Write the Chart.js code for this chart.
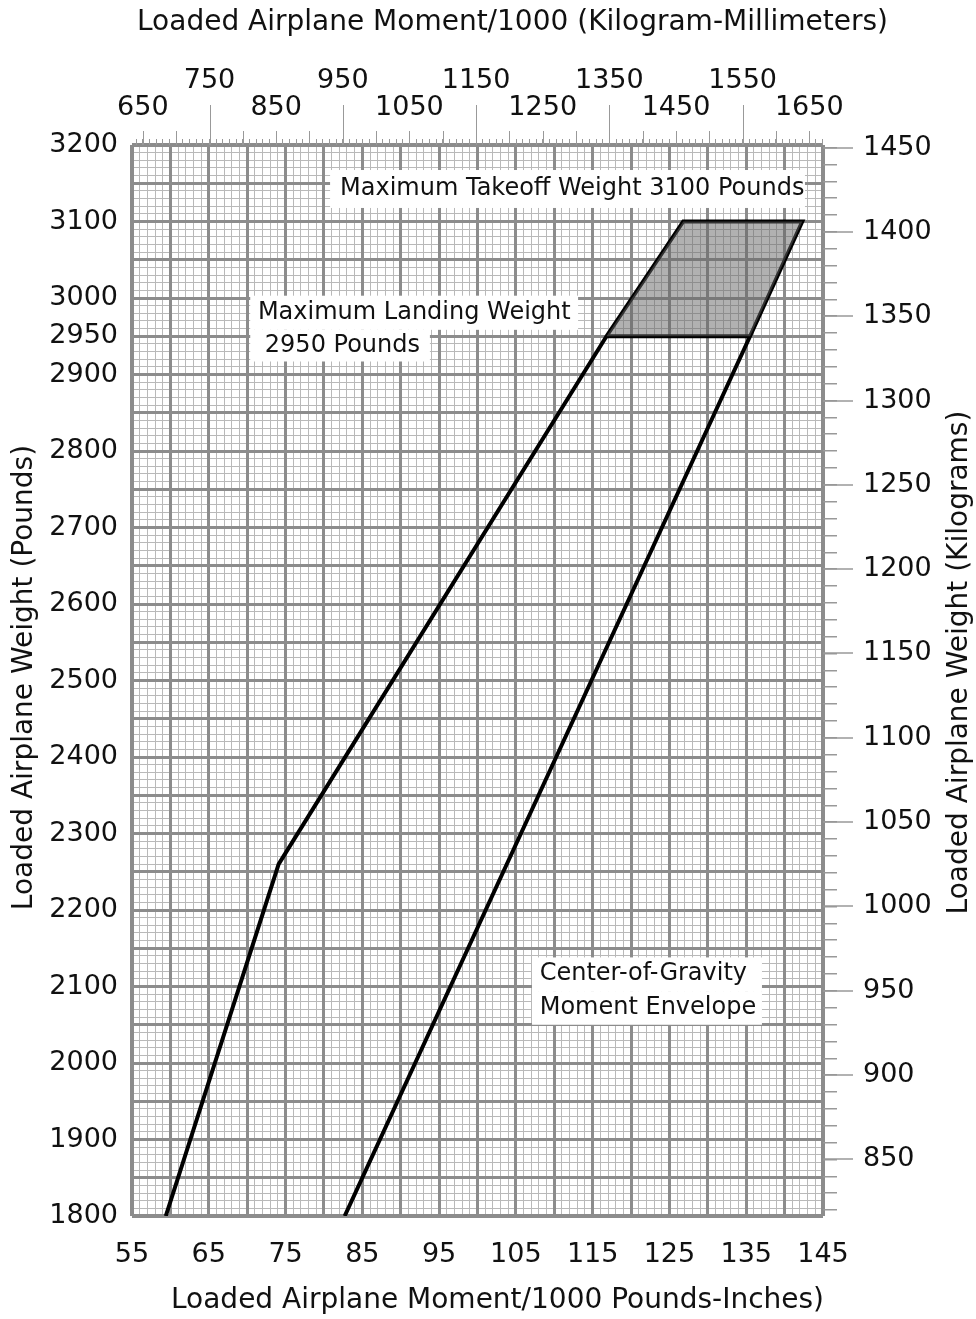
<!DOCTYPE html>
<html>
<head>
<meta charset="utf-8">
<title>Center-of-Gravity Moment Envelope</title>
<script src="https://cdn.jsdelivr.net/npm/chart.js@4.4.0/dist/chart.umd.min.js"></script>
<style>
  html, body { margin: 0; padding: 0; background: #fff; }
  #wrap { width: 976px; height: 1319px; }
</style>
</head>
<body>
<div id="wrap"><canvas id="cg"></canvas></div>
<script>
// Envelope corners: moment/1000 lb-in vs weight lb
const envMoment = [59.4, 74.1, 116.8, 126.8, 142.3, 135.5, 82.7];
const envWeight = [1800, 2260, 2950, 3100, 3100, 2950, 1800];
// Max landing weight line
const landMoment = [116.8, 135.5];
const landWeight = [2950, 2950];
// Shaded band between landing and takeoff weight
const shadeMoment = [116.8, 126.8, 142.3, 135.5];
const shadeWeight = [2950, 3100, 3100, 2950];

// Axis ranges
const momentRange = [55, 145];
const weightRange = [1800, 3200];

// Tick labels
const momentLabels = [55, 65, 75, 85, 95, 105, 115, 125, 135, 145];
const weightLabels = [1800, 1900, 2000, 2100, 2200, 2300, 2400, 2500, 2600, 2700, 2800, 2900, 2950, 3000, 3100, 3200];
const kgmmLabelsHigh = [750, 950, 1150, 1350, 1550];
const kgmmLabelsLow = [650, 850, 1050, 1250, 1450, 1650];
const kgLabels = [850, 900, 950, 1000, 1050, 1100, 1150, 1200, 1250, 1300, 1350, 1400, 1450];

// Unit conversions for the secondary axes
const LBIN_TO_KGMM = 11.521246;
const LB_TO_KG = 0.45359237;

// Text notes (data units)
const notes = [
  { text: 'Maximum Takeoff Weight 3100 Pounds', x: 82.1, y: 3142.5, box: [80.8, 142.65, 3117.7, 3167.3] },
  { text: 'Maximum Landing Weight', x: 71.4, y: 2980.6, box: [70.4, 113.1, 2958.4, 3003] },
  { text: '2950 Pounds', x: 72.3, y: 2937, box: [70.4, 93.8, 2917, 2958.4] },
  { text: 'Center-of-Gravity', x: 108.1, y: 2116, box: [107.1, 137.05, 2094, 2138] },
  { text: 'Moment Envelope', x: 108.1, y: 2071.6, box: [107.1, 137.05, 2050, 2094] }
];

const titleTop = 'Loaded Airplane Moment/1000 (Kilogram-Millimeters)';
const titleBottom = 'Loaded Airplane Moment/1000 Pounds-Inches)';
const titleLeft = 'Loaded Airplane Weight (Pounds)';
const titleRight = 'Loaded Airplane Weight (Kilograms)';

const FONT = '"DejaVu Sans", sans-serif';
const TEXT = '#111';
const MAJOR = '#8c8c8c';
const MINOR = '#b9b9b9';

function stepTicks(min, max, step) {
  const out = [];
  for (let v = Math.ceil(min / step - 1e-9) * step; v <= max + 1e-9; v += step) {
    out.push({ value: +v.toFixed(6) });
  }
  return out;
}

function fixSize(w, h) {
  return function(scale) {
    if (w !== null) scale.width = w;
    if (h !== null) scale.height = h;
    scale.paddingLeft = scale.paddingRight = scale.paddingTop = scale.paddingBottom = 0;
  };
}

function edgeWidth(ctx) {
  const s = ctx.scale;
  if (ctx.tick && (ctx.tick.value === s.min || ctx.tick.value === s.max)) return 4;
  return 3;
}

function pts(xs, ys) {
  return xs.map((x, i) => ({ x: x, y: ys[i] }));
}

const overlay = {
  id: 'overlay',
  beforeDatasetsDraw(chart) {
    const ctx = chart.ctx;
    const sx = chart.scales.x, sy = chart.scales.y;
    ctx.save();
    notes.forEach(n => {
      const x0 = sx.getPixelForValue(n.box[0]);
      const x1 = sx.getPixelForValue(n.box[1]);
      const y0 = sy.getPixelForValue(n.box[3]);
      const y1 = sy.getPixelForValue(n.box[2]);
      ctx.fillStyle = '#fff';
      ctx.fillRect(x0, y0, x1 - x0, y1 - y0);
    });
    ctx.font = '24px ' + FONT;
    ctx.fillStyle = TEXT;
    ctx.textAlign = 'left';
    ctx.textBaseline = 'middle';
    notes.forEach(n => {
      ctx.fillText(n.text, sx.getPixelForValue(n.x), sy.getPixelForValue(n.y));
    });
    ctx.restore();
  },
  afterDraw(chart) {
    const ctx = chart.ctx;
    const area = chart.chartArea;
    const top = chart.scales.xTop;
    const right = chart.scales.yKg;
    ctx.save();
    ctx.strokeStyle = '#999';
    ctx.lineWidth = 1;
    // longer marks on the kg-mm axis
    top.ticks.forEach(t => {
      let len = 0;
      if (kgmmLabelsHigh.includes(t.value)) len = 40;
      else if (t.value % 50 === 0) len = 14;
      if (!len) return;
      const px = Math.round(top.getPixelForValue(t.value)) + 0.5;
      ctx.beginPath();
      ctx.moveTo(px, area.top);
      ctx.lineTo(px, area.top - len);
      ctx.stroke();
    });
    // longer marks on the kg axis
    ctx.lineWidth = 1.5;
    kgLabels.forEach(v => {
      const py = Math.round(right.getPixelForValue(v));
      ctx.beginPath();
      ctx.moveTo(area.right, py);
      ctx.lineTo(area.right + 30, py);
      ctx.stroke();
    });

    // axis titles
    ctx.font = '28px ' + FONT;
    ctx.fillStyle = TEXT;
    ctx.textAlign = 'center';
    ctx.textBaseline = 'middle';
    const cx = (area.left + area.right) / 2;
    const cy = (area.top + area.bottom) / 2;
    ctx.fillText(titleTop, cx + 35, 23);
    ctx.fillText(titleBottom, cx + 20, chart.height - 18);
    ctx.save();
    ctx.translate(25, cy - 3);
    ctx.rotate(-Math.PI / 2);
    ctx.fillText(titleLeft, 0, 0);
    ctx.restore();
    ctx.save();
    ctx.translate(chart.width - 16, cy - 18);
    ctx.rotate(-Math.PI / 2);
    ctx.fillText(titleRight, 0, 0);
    ctx.restore();
    ctx.restore();
  }
};

const labelFont = { family: FONT, size: 27 };

new Chart(document.getElementById('cg'), {
  type: 'line',
  data: {
    datasets: [
      {
        data: pts(shadeMoment, shadeWeight),
        fill: 'shape',
        backgroundColor: 'rgba(100,100,100,0.5)',
        borderWidth: 0,
        pointRadius: 0
      },
      {
        data: pts(envMoment, envWeight),
        fill: false,
        borderColor: '#000',
        borderWidth: 4,
        pointRadius: 0
      },
      {
        data: pts(landMoment, landWeight),
        fill: false,
        borderColor: '#000',
        borderWidth: 4,
        pointRadius: 0
      }
    ]
  },
  options: {
    responsive: true,
    maintainAspectRatio: false,
    animation: false,
    devicePixelRatio: 1,
    layout: { padding: 0 },
    plugins: {
      legend: { display: false },
      tooltip: { enabled: false }
    },
    scales: {
      xMinor: {
        type: 'linear', position: 'bottom', min: momentRange[0], max: momentRange[1],
        afterBuildTicks: s => { s.ticks = stepTicks(momentRange[0], momentRange[1], 1); },
        ticks: { display: false },
        grid: { color: MINOR, lineWidth: 1, drawTicks: false, z: -2 },
        border: { display: false },
        afterFit: fixSize(null, 0)
      },
      yMinor: {
        type: 'linear', position: 'left', min: weightRange[0], max: weightRange[1],
        afterBuildTicks: s => { s.ticks = stepTicks(weightRange[0], weightRange[1], 10); },
        ticks: { display: false },
        grid: { color: MINOR, lineWidth: 1, drawTicks: false, z: -2 },
        border: { display: false },
        afterFit: fixSize(0, null)
      },
      x: {
        type: 'linear', position: 'bottom', min: momentRange[0], max: momentRange[1],
        afterBuildTicks: s => { s.ticks = stepTicks(momentRange[0], momentRange[1], 5); },
        ticks: {
          autoSkip: false, maxRotation: 0, padding: 23, color: TEXT, font: labelFont,
          callback: v => momentLabels.includes(v) ? String(v) : ''
        },
        grid: { color: MAJOR, lineWidth: edgeWidth, drawTicks: false, z: -1 },
        border: { display: false },
        afterFit: fixSize(null, 103)
      },
      y: {
        type: 'linear', position: 'left', min: weightRange[0], max: weightRange[1],
        afterBuildTicks: s => { s.ticks = stepTicks(weightRange[0], weightRange[1], 50); },
        ticks: {
          autoSkip: false, padding: 14, color: TEXT, font: labelFont,
          callback: v => weightLabels.includes(v) ? String(v) : ''
        },
        grid: { color: MAJOR, lineWidth: edgeWidth, drawTicks: false, z: -1 },
        border: { display: false },
        afterFit: fixSize(132, null)
      },
      xTop: {
        type: 'linear', position: 'top',
        min: momentRange[0] * LBIN_TO_KGMM, max: momentRange[1] * LBIN_TO_KGMM,
        afterBuildTicks: s => { s.ticks = stepTicks(s.min, s.max, 10); },
        ticks: {
          autoSkip: false, maxRotation: 0, padding: 18, color: TEXT,
          font: { family: FONT, size: 27, lineHeight: '27px' },
          callback: v => kgmmLabelsHigh.includes(v) ? [String(v), '']
            : kgmmLabelsLow.includes(v) ? ['', String(v)] : ''
        },
        grid: { drawOnChartArea: false, drawTicks: true, tickLength: 6, color: '#999', lineWidth: 1 },
        border: { display: false },
        afterFit: fixSize(null, 145)
      },
      yKg: {
        type: 'linear', position: 'right',
        min: weightRange[0] * LB_TO_KG, max: weightRange[1] * LB_TO_KG,
        afterBuildTicks: s => { s.ticks = stepTicks(s.min, s.max, 10); },
        ticks: {
          autoSkip: false, padding: 26, color: TEXT, font: labelFont,
          callback: v => kgLabels.includes(v) ? String(v) : ''
        },
        grid: { drawOnChartArea: false, drawTicks: true, tickLength: 14, color: '#999', lineWidth: 1.5 },
        border: { display: false },
        afterFit: fixSize(153, null)
      }
    }
  },
  plugins: [overlay]
});
</script>
</body>
</html>
